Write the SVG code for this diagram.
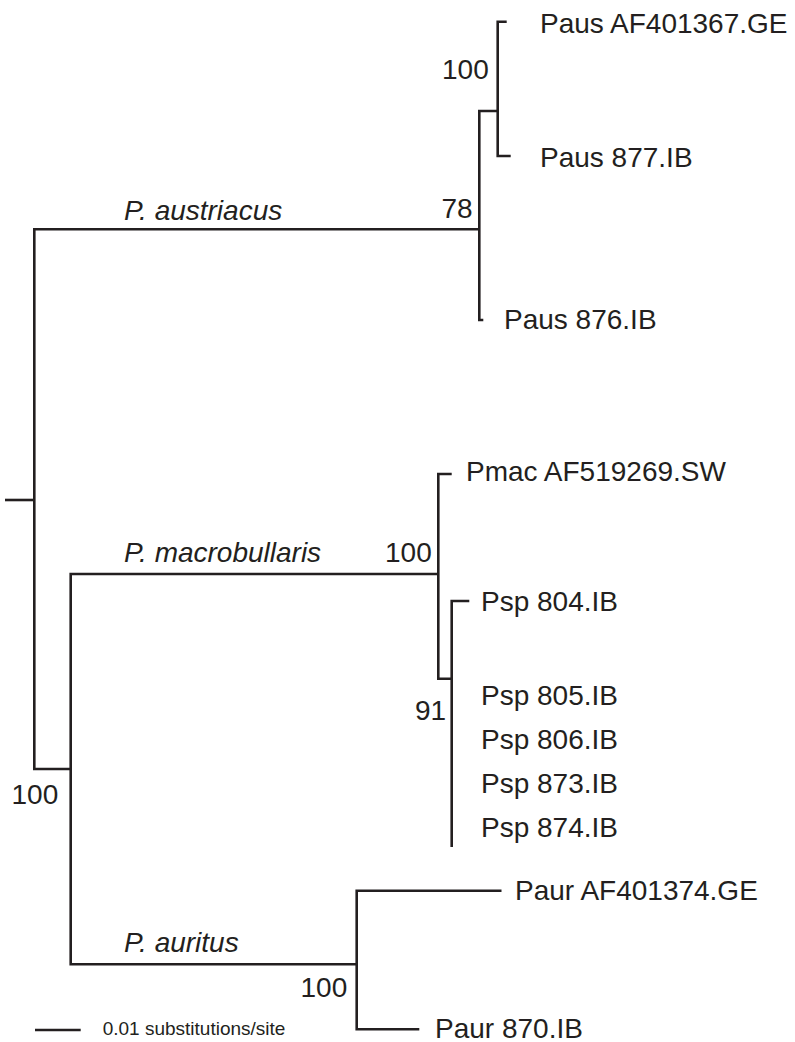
<svg xmlns="http://www.w3.org/2000/svg" width="795" height="1042" viewBox="0 0 795 1042">
<style>
.br{fill:none;stroke:#231f20;stroke-width:2.6;stroke-linejoin:miter;stroke-linecap:butt}
.t{font-family:"Liberation Sans",Arial,sans-serif;font-size:28px;fill:#231f20}
.i{font-style:italic}
.s{font-family:"Liberation Sans",Arial,sans-serif;font-size:19px;fill:#231f20}
</style>
<rect width="795" height="1042" fill="#ffffff"/>
<g id="connectors">
<path class="br" d="M5,500 H34.3"/>
<path class="br" d="M479.3,229.3 H34.3 V769 H70.7"/>
<path class="br" d="M497.7,111 H479.3 V320 H483.3"/>
<path class="br" d="M506.7,21.7 H497.7 V156 H510.7"/>
<path class="br" d="M438.3,574 H70.7 V964.3 H356.7"/>
<path class="br" d="M451.7,474 H438.3 V678.7 H451.7"/>
<path class="br" d="M469.3,601 H451.7 V847"/>
<path class="br" d="M501.5,890.7 H356.7 V1029.3 H419.3"/>
<path class="br" d="M35,1030 H80.7"/>
</g>
<g id="tip-paus-af401367"><text class="t" x="540" y="32.5">Paus AF401367.GE</text></g>
<g id="tip-paus-877"><text class="t" x="540" y="167">Paus 877.IB</text></g>
<g id="tip-paus-876"><text class="t" x="504" y="329">Paus 876.IB</text></g>
<g id="tip-pmac-af519269"><text class="t" x="466" y="481">Pmac AF519269.SW</text></g>
<g id="tip-psp-804"><text class="t" x="481" y="611">Psp 804.IB</text></g>
<g id="tip-psp-805"><text class="t" x="481" y="705">Psp 805.IB</text></g>
<g id="tip-psp-806"><text class="t" x="481" y="749">Psp 806.IB</text></g>
<g id="tip-psp-873"><text class="t" x="481" y="793">Psp 873.IB</text></g>
<g id="tip-psp-874"><text class="t" x="481" y="837">Psp 874.IB</text></g>
<g id="tip-paur-af401374"><text class="t" x="515" y="900">Paur AF401374.GE</text></g>
<g id="tip-paur-870"><text class="t" x="435" y="1038">Paur 870.IB</text></g>
<g id="clade-austriacus"><text class="t i" x="124" y="220">P. austriacus</text></g>
<g id="clade-macrobullaris"><text class="t i" x="124" y="562">P. macrobullaris</text></g>
<g id="clade-auritus"><text class="t i" x="124" y="952">P. auritus</text></g>
<g id="support-100-paus"><text class="t" x="442" y="79">100</text></g>
<g id="support-78"><text class="t" x="441.5" y="218">78</text></g>
<g id="support-100-pmac"><text class="t" x="385" y="562">100</text></g>
<g id="support-91"><text class="t" x="415" y="720">91</text></g>
<g id="support-100-root"><text class="t" x="11.5" y="804">100</text></g>
<g id="support-100-paur"><text class="t" x="300.5" y="997">100</text></g>
<g id="scale"><text class="s" x="102.7" y="1035">0.01 substitutions/site</text></g>
</svg>
